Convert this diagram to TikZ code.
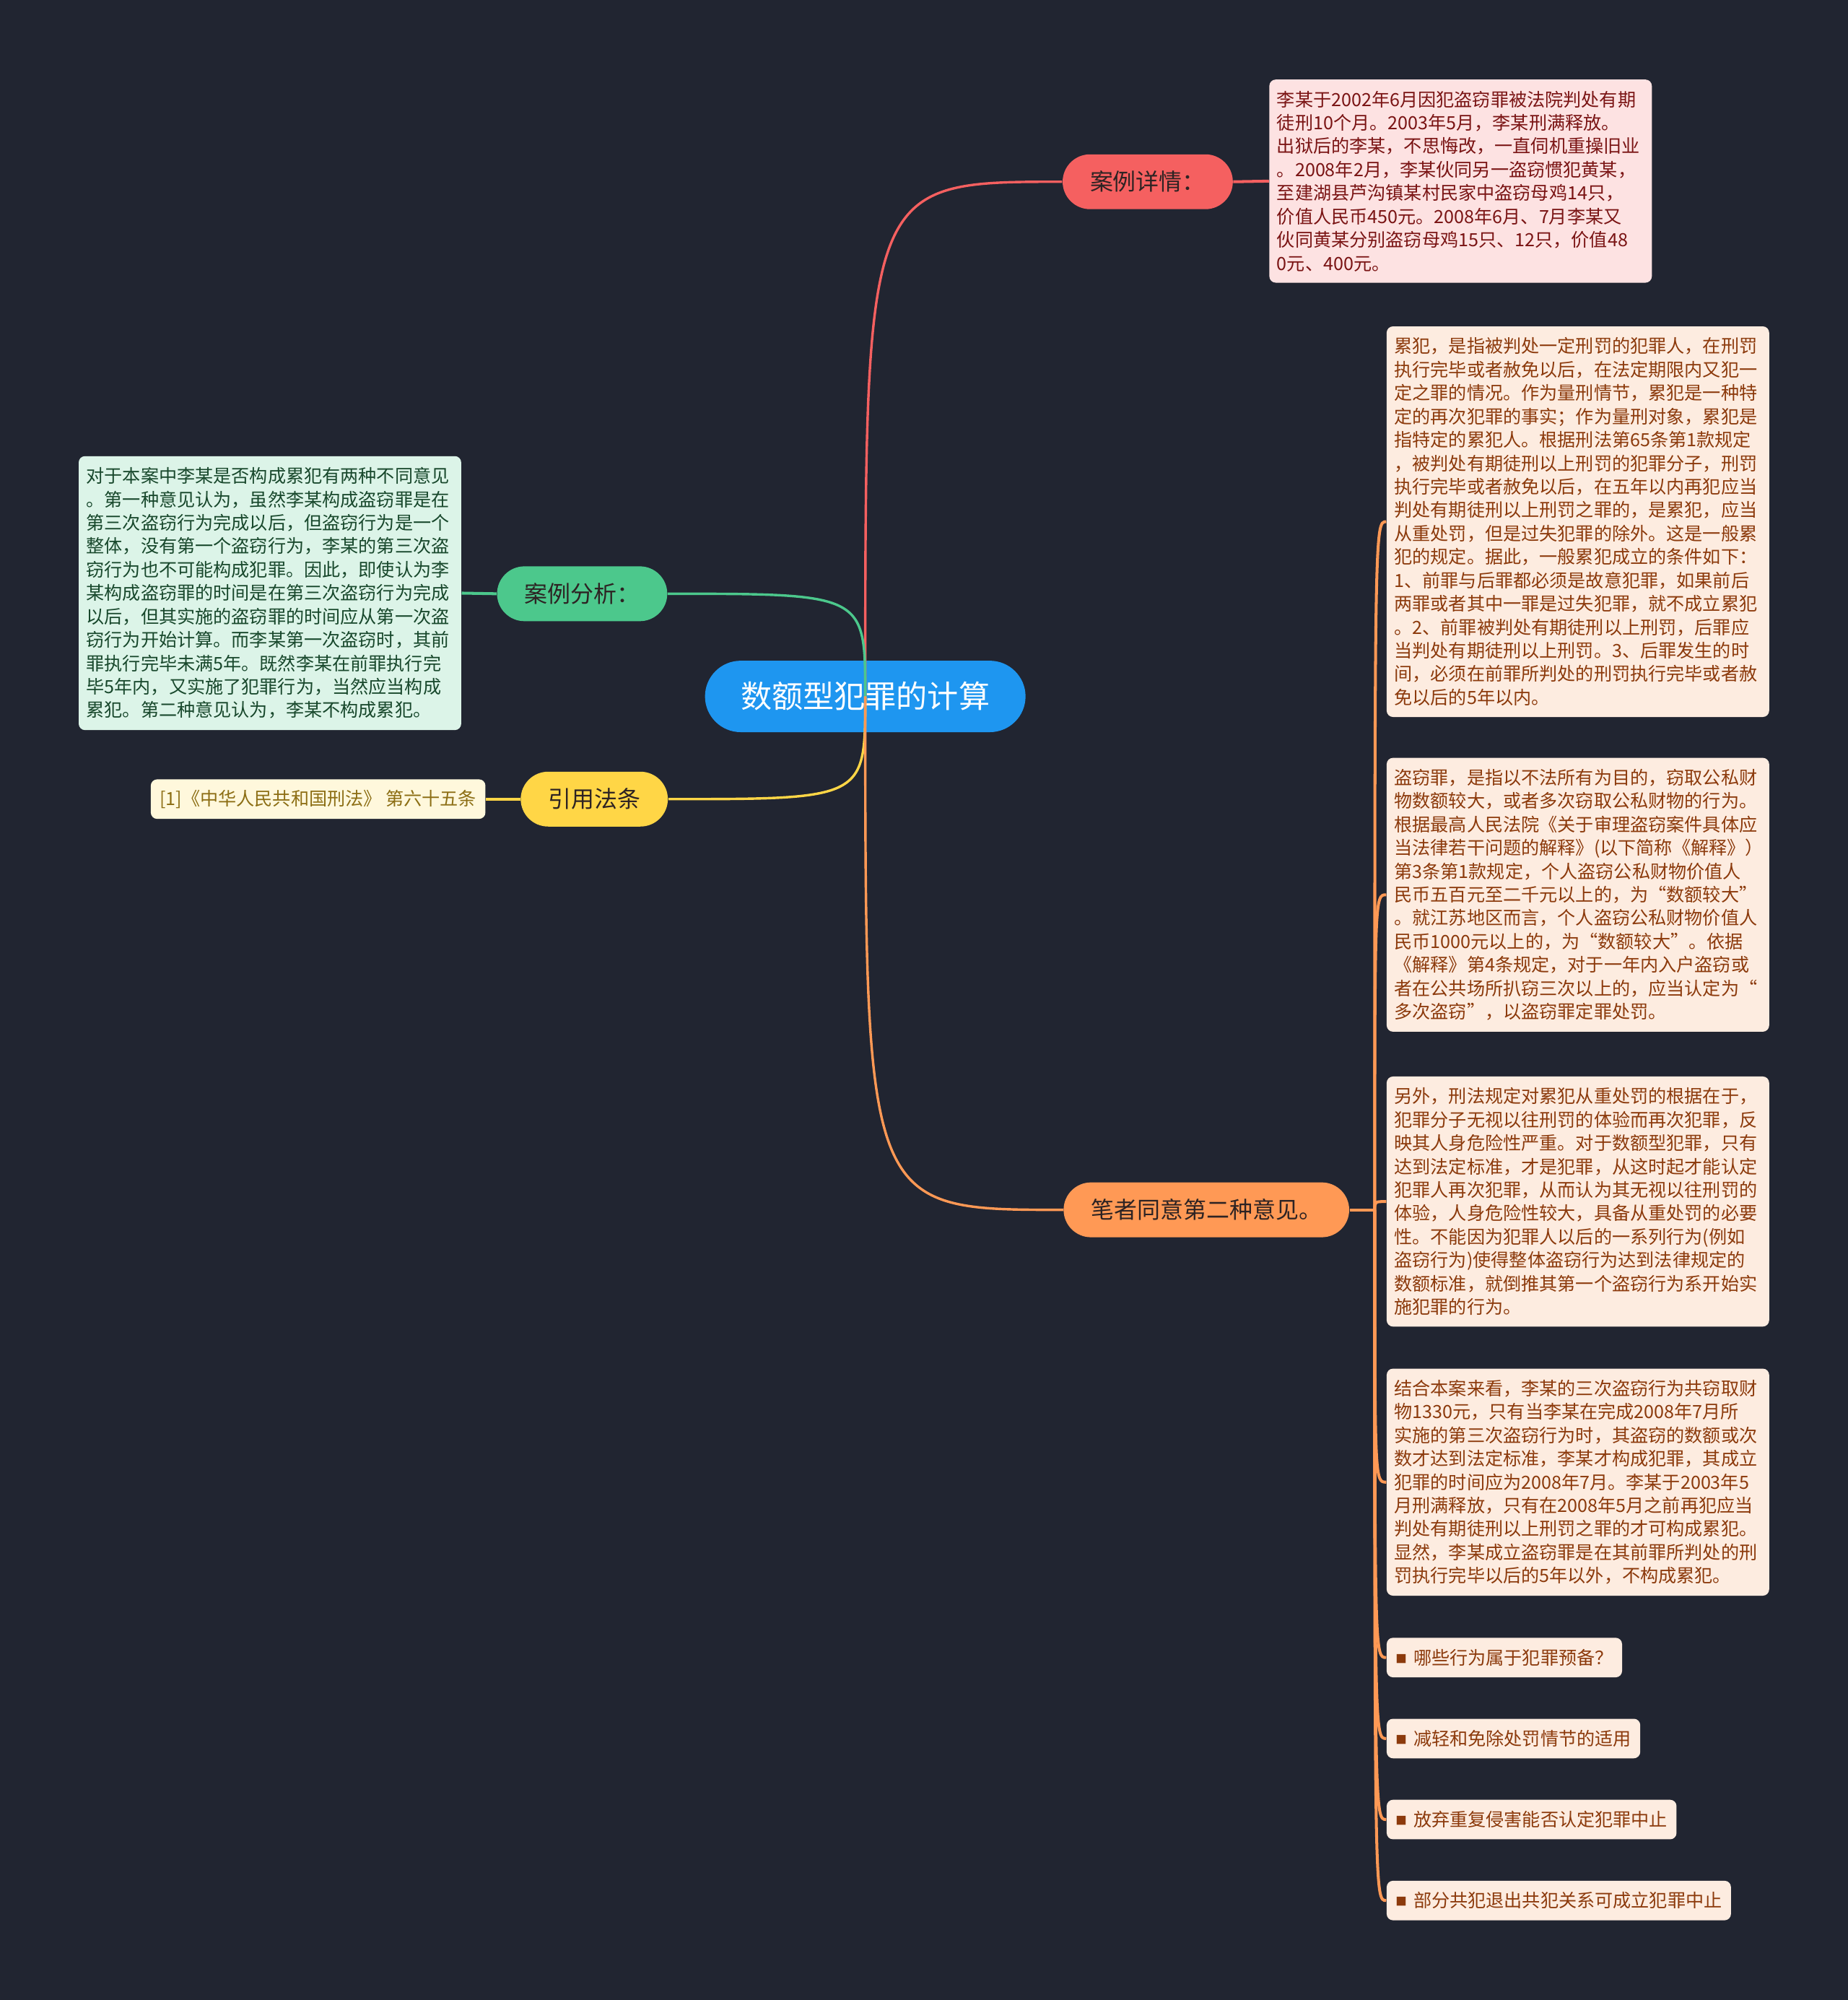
\documentclass[tikz,border=0pt]{standalone}
\usepackage{fontspec}
\setmainfont{Noto Sans CJK SC}
\usepackage{xcolor}
\usetikzlibrary{calc,positioning}
\definecolor{bgcolor}{RGB}{33,37,49}
\definecolor{rootfill}{RGB}{30,150,240}
\definecolor{redbranch}{RGB}{245,96,96}
\definecolor{redbg}{RGB}{253,226,226}
\definecolor{redtext}{RGB}{122,20,20}
\definecolor{greenbranch}{RGB}{76,200,140}
\definecolor{greenbg}{RGB}{220,244,232}
\definecolor{greentext}{RGB}{24,72,44}
\definecolor{yellowbranch}{RGB}{255,214,70}
\definecolor{yellowbg}{RGB}{255,248,220}
\definecolor{yellowtext}{RGB}{140,110,20}
\definecolor{orangebranch}{RGB}{255,153,85}
\definecolor{orangebg}{RGB}{253,236,224}
\definecolor{orangetext}{RGB}{140,58,12}
\definecolor{darktext}{RGB}{45,35,35}
\newcommand{\tagdot}{\raisebox{0.6pt}{\fontsize{5pt}{5pt}\selectfont ■}\hspace{3pt}}

\begin{document}
\begin{tikzpicture}[
    x=0.02cm, y=-0.02cm,
    rootnode/.style={fill=rootfill, text=white, rounded corners=0.56cm, minimum height=1.12cm, inner xsep=0.56cm, inner ysep=0pt, font=\fontsize{13.9pt}{16pt}\selectfont},
    branchnode/.style={rounded corners=0.43cm, minimum height=0.86cm, inner xsep=0.43cm, inner ysep=0pt, text=darktext, font=\fontsize{10.3pt}{12pt}\selectfont},
    textcard/.style={rounded corners=0.1cm, inner xsep=0.12cm, inner ysep=5pt, align=left, text width=5.76cm, font=\fontsize{8.1pt}{10.45pt}\selectfont},
    tagcard/.style={rounded corners=0.1cm, inner xsep=0.14cm, inner ysep=0pt, minimum height=0.62cm, font=\fontsize{8.1pt}{10pt}\selectfont},
    rootlink/.style={line width=1.1pt},
    leaflink/.style={line width=1.3pt}
]

% Background
\fill[bgcolor] (0,0) rectangle (1449,1568);

% Root and main branches
\node[rootnode] (ROOT) at (678.5,546) {数额型犯罪的计算};
\node[branchnode, fill=redbranch] (DETAIL) at (900,142.5) {案例详情：};
\node[branchnode, fill=greenbranch] (ANALYSIS) at (456.5,465.5) {案例分析：};
\node[branchnode, fill=yellowbranch] (LAW) at (466,626.5) {引用法条};
\node[branchnode, fill=orangebranch] (OPINION) at (946,948.5) {笔者同意第二种意见。};

% Case details
\node[textcard, fill=redbg, text=redtext, anchor=west] (DETAIL_TXT) at (995,142) {
    李某于2002年6月因犯盗窃罪被法院判处有期\\
    徒刑10个月。2003年5月，李某刑满释放。\\
    出狱后的李某，不思悔改，一直伺机重操旧业\\
    。2008年2月，李某伙同另一盗窃惯犯黄某，\\
    至建湖县芦沟镇某村民家中盗窃母鸡14只，\\
    价值人民币450元。2008年6月、7月李某又\\
    伙同黄某分别盗窃母鸡15只、12只，价值48\\
    0元、400元。};

% Case analysis
\node[textcard, fill=greenbg, text=greentext, anchor=east] (ANALYSIS_TXT) at (362,465) {
    对于本案中李某是否构成累犯有两种不同意见\\
    。第一种意见认为，虽然李某构成盗窃罪是在\\
    第三次盗窃行为完成以后，但盗窃行为是一个\\
    整体，没有第一个盗窃行为，李某的第三次盗\\
    窃行为也不可能构成犯罪。因此，即使认为李\\
    某构成盗窃罪的时间是在第三次盗窃行为完成\\
    以后，但其实施的盗窃罪的时间应从第一次盗\\
    窃行为开始计算。而李某第一次盗窃时，其前\\
    罪执行完毕未满5年。既然李某在前罪执行完\\
    毕5年内，又实施了犯罪行为，当然应当构成\\
    累犯。第二种意见认为，李某不构成累犯。};

% Cited law
\node[tagcard, fill=yellowbg, text=yellowtext, anchor=east] (LAW_TXT) at (381,626.5) {[1]《中华人民共和国刑法》 第六十五条};

% Author's opinion
\node[textcard, fill=orangebg, text=orangetext, anchor=west] (OP_A) at (1087,409) {
    累犯，是指被判处一定刑罚的犯罪人，在刑罚\\
    执行完毕或者赦免以后，在法定期限内又犯一\\
    定之罪的情况。作为量刑情节，累犯是一种特\\
    定的再次犯罪的事实；作为量刑对象，累犯是\\
    指特定的累犯人。根据刑法第65条第1款规定\\
    ，被判处有期徒刑以上刑罚的犯罪分子，刑罚\\
    执行完毕或者赦免以后，在五年以内再犯应当\\
    判处有期徒刑以上刑罚之罪的，是累犯，应当\\
    从重处罚，但是过失犯罪的除外。这是一般累\\
    犯的规定。据此，一般累犯成立的条件如下：\\
    1、前罪与后罪都必须是故意犯罪，如果前后\\
    两罪或者其中一罪是过失犯罪，就不成立累犯\\
    。2、前罪被判处有期徒刑以上刑罚，后罪应\\
    当判处有期徒刑以上刑罚。3、后罪发生的时\\
    间，必须在前罪所判处的刑罚执行完毕或者赦\\
    免以后的5年以内。};
\node[textcard, fill=orangebg, text=orangetext, anchor=west] (OP_B) at (1087,701.5) {
    盗窃罪，是指以不法所有为目的，窃取公私财\\
    物数额较大，或者多次窃取公私财物的行为。\\
    根据最高人民法院《关于审理盗窃案件具体应\\
    当法律若干问题的解释》(以下简称《解释》）\\
    第3条第1款规定，个人盗窃公私财物价值人\\
    民币五百元至二千元以上的，为“数额较大”\\
    。就江苏地区而言，个人盗窃公私财物价值人\\
    民币1000元以上的，为“数额较大”。依据\\
    《解释》第4条规定，对于一年内入户盗窃或\\
    者在公共场所扒窃三次以上的，应当认定为“\\
    多次盗窃”，以盗窃罪定罪处罚。};
\node[textcard, fill=orangebg, text=orangetext, anchor=west] (OP_C) at (1087,942) {
    另外，刑法规定对累犯从重处罚的根据在于，\\
    犯罪分子无视以往刑罚的体验而再次犯罪，反\\
    映其人身危险性严重。对于数额型犯罪，只有\\
    达到法定标准，才是犯罪，从这时起才能认定\\
    犯罪人再次犯罪，从而认为其无视以往刑罚的\\
    体验，人身危险性较大，具备从重处罚的必要\\
    性。不能因为犯罪人以后的一系列行为(例如\\
    盗窃行为)使得整体盗窃行为达到法律规定的\\
    数额标准，就倒推其第一个盗窃行为系开始实\\
    施犯罪的行为。};
\node[textcard, fill=orangebg, text=orangetext, anchor=west] (OP_D) at (1087,1162) {
    结合本案来看，李某的三次盗窃行为共窃取财\\
    物1330元，只有当李某在完成2008年7月所\\
    实施的第三次盗窃行为时，其盗窃的数额或次\\
    数才达到法定标准，李某才构成犯罪，其成立\\
    犯罪的时间应为2008年7月。李某于2003年5\\
    月刑满释放，只有在2008年5月之前再犯应当\\
    判处有期徒刑以上刑罚之罪的才可构成累犯。\\
    显然，李某成立盗窃罪是在其前罪所判处的刑\\
    罚执行完毕以后的5年以外，不构成累犯。};
\node[tagcard, fill=orangebg, text=orangetext, anchor=west] (TAG_A) at (1087,1299.5) {\tagdot 哪些行为属于犯罪预备？};
\node[tagcard, fill=orangebg, text=orangetext, anchor=west] (TAG_B) at (1087,1363) {\tagdot 减轻和免除处罚情节的适用};
\node[tagcard, fill=orangebg, text=orangetext, anchor=west] (TAG_C) at (1087,1426.5) {\tagdot 放弃重复侵害能否认定犯罪中止};
\node[tagcard, fill=orangebg, text=orangetext, anchor=west] (TAG_D) at (1087,1490) {\tagdot 部分共犯退出共犯关系可成立犯罪中止};

% Branch to card links
\draw[leaflink, redbranch] (DETAIL.east) -- (DETAIL_TXT.west);
\draw[leaflink, greenbranch] (ANALYSIS.west) -- (ANALYSIS_TXT.east);
\draw[leaflink, yellowbranch] (LAW.west) -- (LAW_TXT.east);
\coordinate (HUB) at (1078,948.5);
\draw[leaflink, orangebranch] (OPINION.east) -- (HUB);
\foreach \card in {OP_A,OP_B,OP_C,OP_D,TAG_A,TAG_B,TAG_C,TAG_D}
    \draw[leaflink, orangebranch] (HUB) .. controls (HUB |- \card.west) .. (\card.west);

% Root to branch curves
\draw[rootlink, redbranch] (ROOT.center) .. controls (ROOT.center |- DETAIL.west) .. (DETAIL.west);
\draw[rootlink, greenbranch] (ANALYSIS.east) .. controls (ANALYSIS.east -| ROOT.center) .. (ROOT.center);
\draw[rootlink, yellowbranch] (LAW.east) .. controls (LAW.east -| ROOT.center) .. (ROOT.center);
\draw[rootlink, orangebranch] (ROOT.center) .. controls (ROOT.center |- OPINION.west) .. (OPINION.west);

\end{tikzpicture}
\end{document}
